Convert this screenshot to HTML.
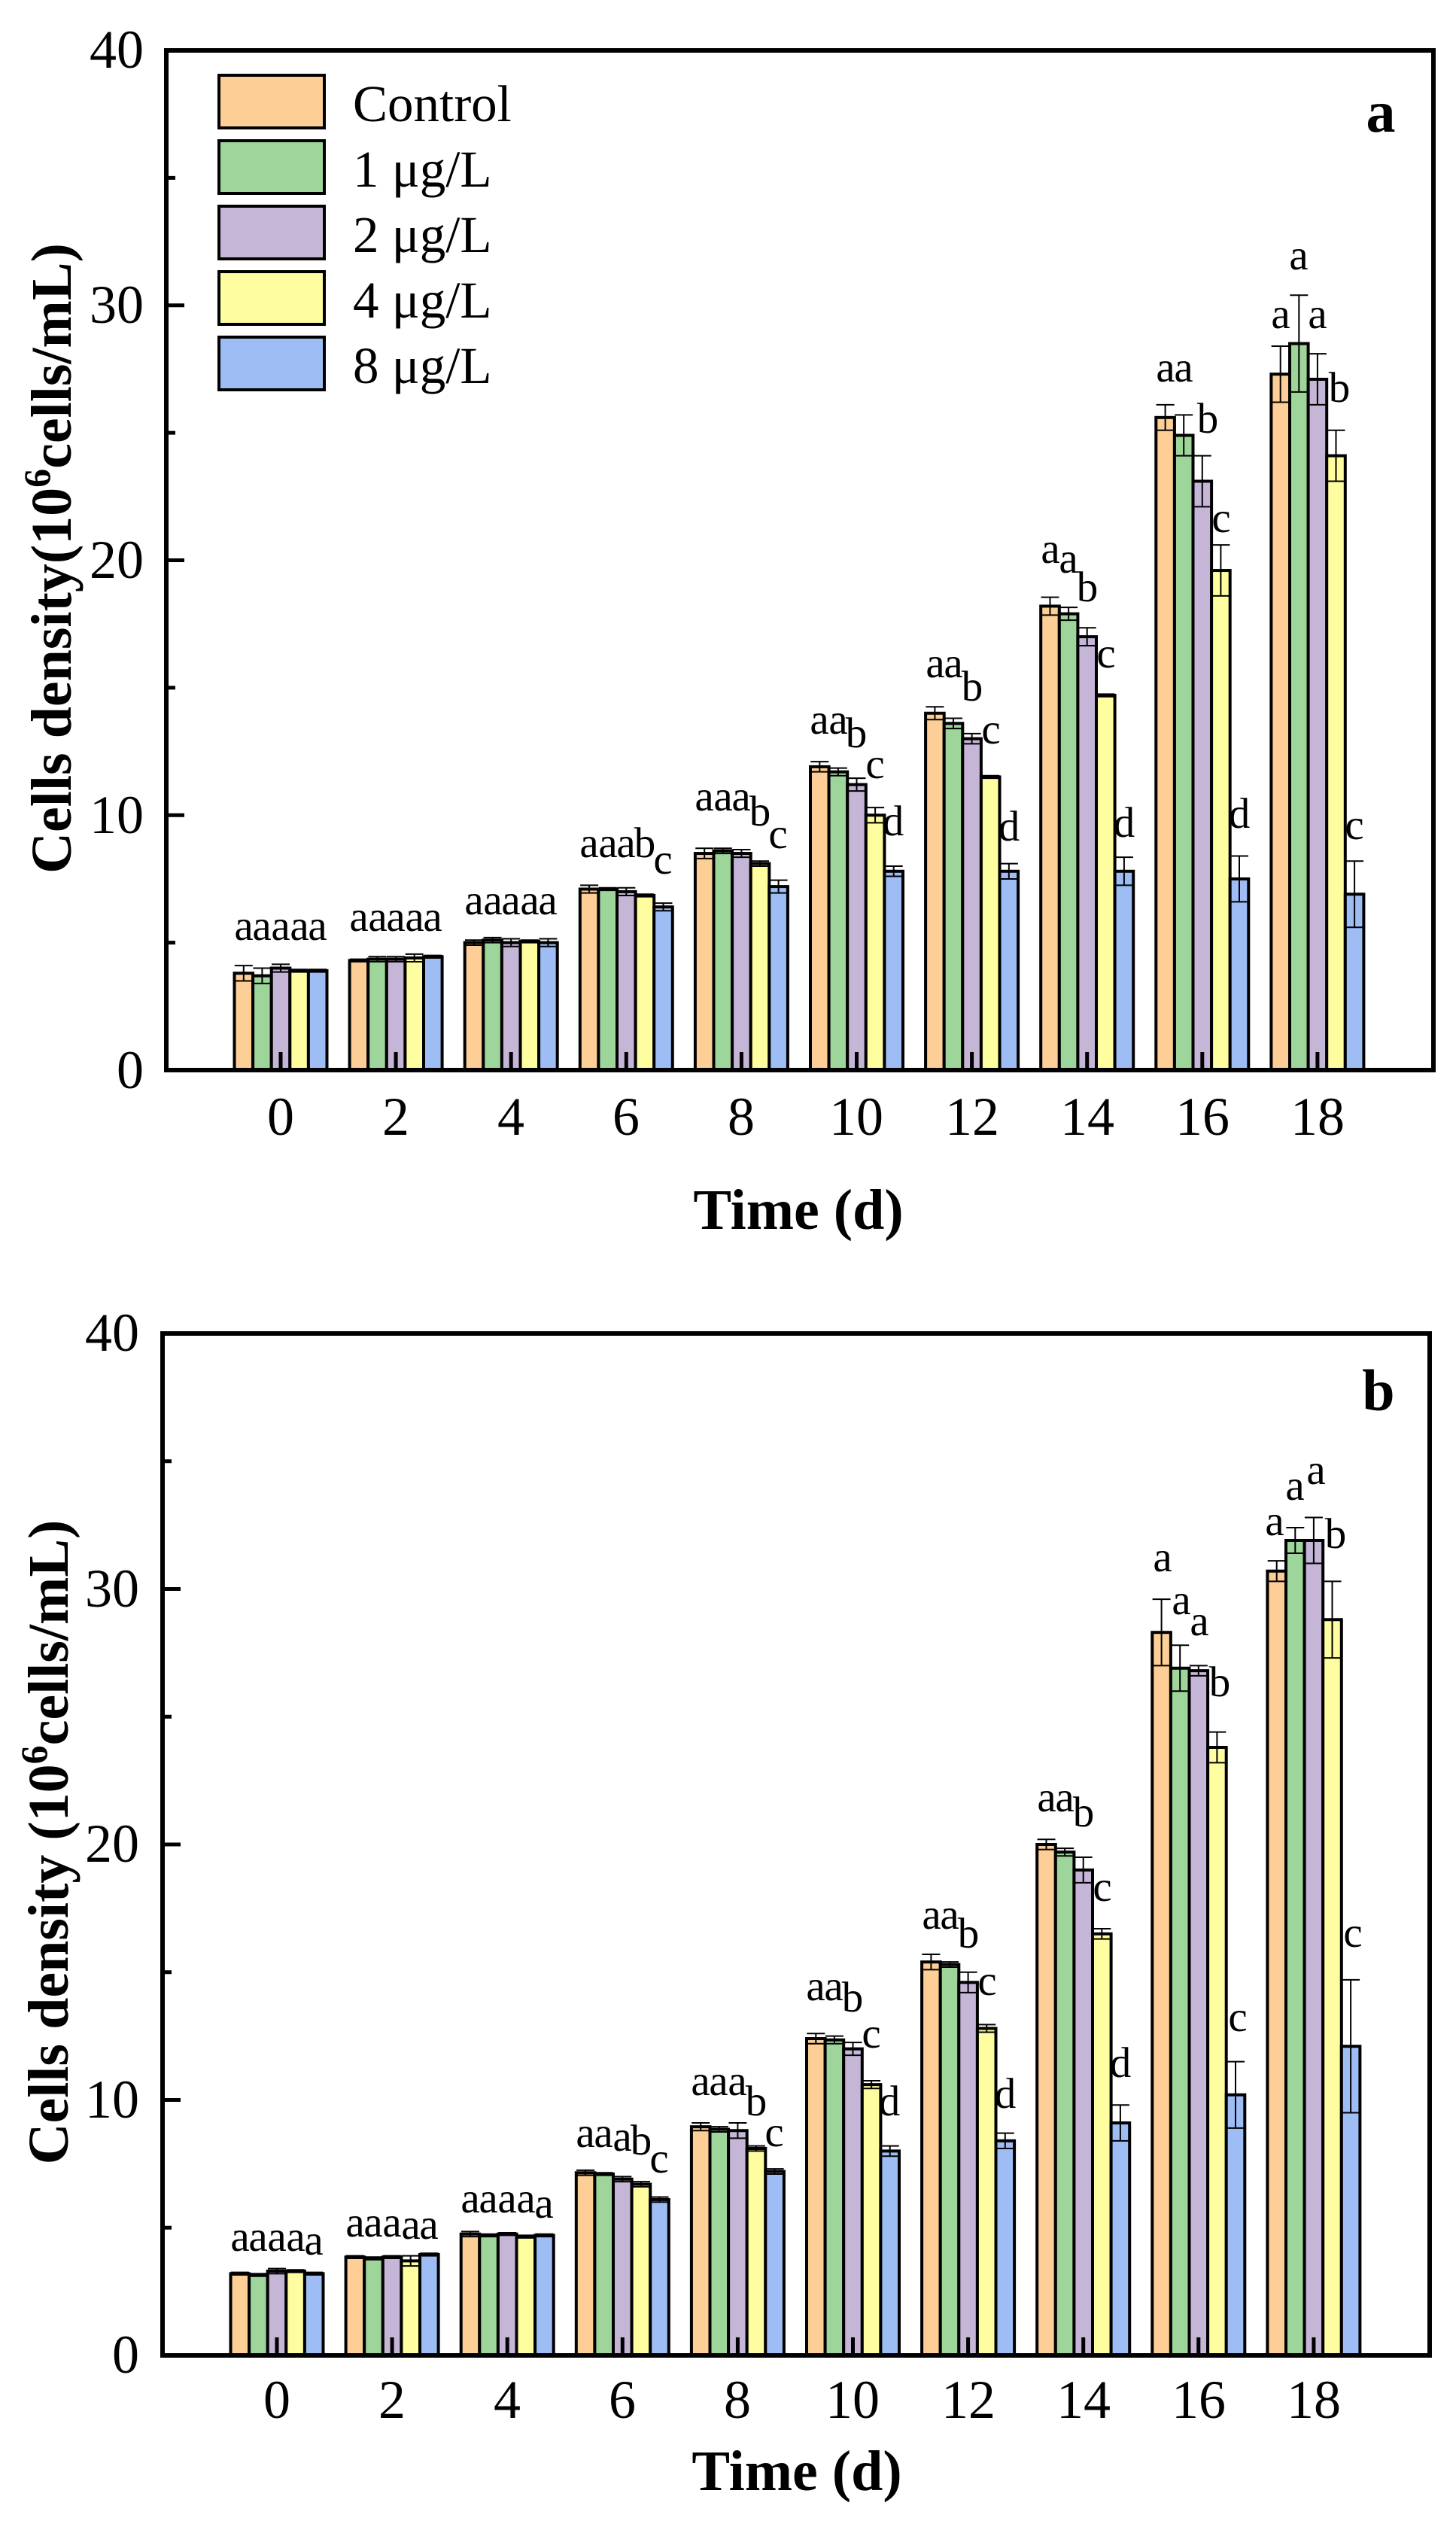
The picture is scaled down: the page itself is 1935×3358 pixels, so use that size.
<!DOCTYPE html>
<html><head><meta charset="utf-8">
<style>
html,body{margin:0;padding:0;background:#fff;}
svg{display:block;}
text{font-family:"Liberation Serif",serif;fill:#000;}
.tk{font-size:72px;}
.lt{font-size:57px;}
.lg{font-size:69px;}
.bd{font-weight:bold;}
</style></head>
<body>
<svg id="s" width="1935" height="3358" viewBox="0 0 1935 3358" xmlns="http://www.w3.org/2000/svg">
<g id="bars"></g>
<rect x="221" y="67" width="1684" height="1355" fill="none" stroke="#000" stroke-width="6"/>
<rect x="216" y="1772" width="1684" height="1358" fill="none" stroke="#000" stroke-width="6"/>
<g id="ticks"></g>

<!-- Panel a texts -->
<g class="tk" text-anchor="end">
<text x="191" y="90">40</text><text x="191" y="429">30</text><text x="191" y="768">20</text><text x="191" y="1107">10</text><text x="191" y="1446">0</text>
</g>
<g class="tk" text-anchor="middle">
<text x="373" y="1508">0</text><text x="526" y="1508">2</text><text x="679" y="1508">4</text><text x="832" y="1508">6</text><text x="985" y="1508">8</text><text x="1138" y="1508">10</text><text x="1292" y="1508">12</text><text x="1445" y="1508">14</text><text x="1598" y="1508">16</text><text x="1751" y="1508">18</text>
</g>
<text x="1061" y="1633" text-anchor="middle" class="bd" font-size="76">Time (d)</text>
<text transform="translate(94,742) rotate(-90)" text-anchor="middle" class="bd" font-size="76">Cells density(10<tspan font-size="50" dy="-28">6</tspan><tspan dy="28">cells/mL)</tspan></text>
<text x="1835" y="175" text-anchor="middle" class="bd" font-size="78">a</text>
<g stroke="#000" stroke-width="4">
<rect x="291" y="100" width="140" height="70" fill="#FDCE96"/>
<rect x="291" y="187" width="140" height="70" fill="#9DD59B"/>
<rect x="291" y="274" width="140" height="70" fill="#C5B5D7"/>
<rect x="291" y="361" width="140" height="70" fill="#FEFEA0"/>
<rect x="291" y="448" width="140" height="70" fill="#9EBDF5"/>
</g>
<g class="lg">
<text x="469" y="161">Control</text>
<text x="469" y="248">1 μg/L</text>
<text x="469" y="335">2 μg/L</text>
<text x="469" y="422">4 μg/L</text>
<text x="469" y="509">8 μg/L</text>
</g>
<g class="lt" text-anchor="middle">
<text x="324" y="1249">a</text><text x="348" y="1249">a</text><text x="373" y="1249">a</text><text x="398" y="1249">a</text><text x="422" y="1249">a</text>
<text x="477" y="1237">a</text><text x="502" y="1237">a</text><text x="526" y="1237">a</text><text x="551" y="1237">a</text><text x="575" y="1237">a</text>
<text x="630" y="1215">a</text><text x="655" y="1215">a</text><text x="679" y="1215">a</text><text x="704" y="1215">a</text><text x="728" y="1215">a</text>
<text x="783" y="1139">a</text><text x="808" y="1139">a</text><text x="832" y="1139">a</text><text x="857" y="1139">b</text><text x="881" y="1161">c</text>
<text x="936" y="1077">a</text><text x="961" y="1077">a</text><text x="985" y="1077">a</text><text x="1010" y="1097">b</text><text x="1034" y="1127">c</text>
<text x="1089" y="975">a</text><text x="1114" y="975">a</text><text x="1138" y="993">b</text><text x="1163" y="1034">c</text><text x="1187" y="1110">d</text>
<text x="1243" y="900">a</text><text x="1267" y="900">a</text><text x="1292" y="931">b</text><text x="1317" y="988">c</text><text x="1341" y="1117">d</text>
<text x="1396" y="748">a</text><text x="1420" y="761">a</text><text x="1445" y="799">b</text><text x="1470" y="887">c</text><text x="1494" y="1112">d</text>
<text x="1549" y="507">a</text><text x="1573" y="507">a</text><text x="1605" y="575">b</text><text x="1623" y="707">c</text><text x="1647" y="1100">d</text>
<text x="1702" y="436">a</text><text x="1726" y="358">a</text><text x="1751" y="436">a</text><text x="1780" y="534">b</text><text x="1800" y="1115">c</text>
</g>

<!-- Panel b texts -->
<g class="tk" text-anchor="end">
<text x="185" y="1795">40</text><text x="185" y="2135">30</text><text x="185" y="2474">20</text><text x="185" y="2814">10</text><text x="185" y="3153">0</text>
</g>
<g class="tk" text-anchor="middle">
<text x="368" y="3213">0</text><text x="521" y="3213">2</text><text x="674" y="3213">4</text><text x="827" y="3213">6</text><text x="980" y="3213">8</text><text x="1133" y="3213">10</text><text x="1287" y="3213">12</text><text x="1440" y="3213">14</text><text x="1593" y="3213">16</text><text x="1746" y="3213">18</text>
</g>
<text x="1059" y="3309" text-anchor="middle" class="bd" font-size="76">Time (d)</text>
<text transform="translate(90,2448) rotate(-90)" text-anchor="middle" class="bd" font-size="76">Cells density (10<tspan font-size="50" dy="-28">6</tspan><tspan dy="28">cells/mL)</tspan></text>
<text x="1832" y="1874" text-anchor="middle" class="bd" font-size="78">b</text>
<g class="lt" text-anchor="middle">
<text x="319" y="2991">a</text><text x="343" y="2991">a</text><text x="368" y="2991">a</text><text x="393" y="2991">a</text><text x="417" y="2996">a</text>
<text x="472" y="2972">a</text><text x="496" y="2972">a</text><text x="521" y="2972">a</text><text x="546" y="2975">a</text><text x="570" y="2975">a</text>
<text x="625" y="2940">a</text><text x="649" y="2940">a</text><text x="674" y="2940">a</text><text x="699" y="2940">a</text><text x="723" y="2947">a</text>
<text x="778" y="2853">a</text><text x="802" y="2853">a</text><text x="827" y="2858">a</text><text x="852" y="2863">b</text><text x="876" y="2887">c</text>
<text x="931" y="2784">a</text><text x="955" y="2784">a</text><text x="980" y="2784">a</text><text x="1005" y="2811">b</text><text x="1029" y="2852">c</text>
<text x="1084" y="2658">a</text><text x="1108" y="2658">a</text><text x="1133" y="2673">b</text><text x="1158" y="2721">c</text><text x="1182" y="2811">d</text>
<text x="1238" y="2563">a</text><text x="1262" y="2563">a</text><text x="1287" y="2588">b</text><text x="1312" y="2651">c</text><text x="1336" y="2801">d</text>
<text x="1391" y="2407">a</text><text x="1415" y="2407">a</text><text x="1440" y="2427">b</text><text x="1465" y="2526">c</text><text x="1489" y="2760">d</text>
<text x="1545" y="2088">a</text><text x="1570" y="2145">a</text><text x="1594" y="2173">a</text><text x="1621" y="2254">b</text><text x="1645" y="2699">c</text>
<text x="1694" y="2040">a</text><text x="1721" y="1993">a</text><text x="1749" y="1972">a</text><text x="1775" y="2057">b</text><text x="1798" y="2587">c</text>
</g>
</svg>
<script>
(function(){
var NS="http://www.w3.org/2000/svg";
var cols=["#FDCE96","#9DD59B","#C5B5D7","#FEFEA0","#9EBDF5"];
function el(p,t,a){var e=document.createElementNS(NS,t);for(var k in a)e.setAttribute(k,a[k]);p.appendChild(e);return e;}
var bars=document.getElementById("bars"),ticks=document.getElementById("ticks");
var A={x0:373,y0:1422,k:33.875,left:221,top:67,
 v:[[3.8,3.7,4.0,3.9,3.9],[4.3,4.35,4.35,4.4,4.45],[5.0,5.1,5.0,5.05,5.0],[7.1,7.1,7.0,6.85,6.4],[8.5,8.6,8.5,8.1,7.2],[11.9,11.7,11.2,10.0,7.8],[14.0,13.6,13.0,11.5,7.8],[18.2,17.9,17.0,14.7,7.8],[25.6,24.9,23.1,19.6,7.5],[27.3,28.5,27.1,24.1,6.9]],
 e:[[0.3,0.3,0.15,0.05,0.05],[0.05,0.1,0.1,0.15,0.05],[0.1,0.1,0.15,0.05,0.15],[0.15,0.05,0.15,0.05,0.15],[0.2,0.1,0.15,0.1,0.25],[0.2,0.15,0.25,0.3,0.2],[0.25,0.2,0.2,0.05,0.3],[0.35,0.25,0.35,0.05,0.55],[0.5,0.8,1.0,1.0,0.9],[1.1,1.9,1.0,1.0,1.3]]};
var B={x0:368,y0:3130,k:33.95,left:216,top:1772,
 v:[[3.2,3.15,3.3,3.3,3.2],[3.85,3.8,3.85,3.7,3.95],[4.75,4.7,4.75,4.65,4.7],[7.15,7.1,6.9,6.7,6.1],[8.95,8.85,8.8,8.1,7.2],[12.4,12.35,12.0,10.6,8.0],[15.4,15.3,14.6,12.8,8.4],[20.0,19.7,19.0,16.5,9.1],[28.3,26.9,26.8,23.8,10.2],[30.7,31.9,31.9,28.8,12.1]],
 e:[[0.05,0.05,0.1,0.05,0.05],[0.05,0.05,0.05,0.2,0.05],[0.1,0.05,0.05,0.05,0.05],[0.1,0.05,0.1,0.1,0.1],[0.15,0.1,0.3,0.1,0.1],[0.2,0.15,0.25,0.15,0.2],[0.3,0.1,0.4,0.15,0.3],[0.2,0.15,0.5,0.2,0.7],[1.3,0.9,0.2,0.6,1.3],[0.4,0.5,0.9,1.5,2.6]]};
var bw=24.6,gap=153.1;
[A,B].forEach(function(P){
 for(var g=0;g<10;g++){
  var cx=P.x0+g*gap;
  for(var i=0;i<5;i++){
   var x=cx+(i-2)*bw-bw/2, y=P.y0-P.v[g][i]*P.k;
   el(bars,"rect",{x:x,y:y,width:bw,height:P.y0-y,fill:cols[i],stroke:"#000","stroke-width":4});
  }
  for(var i=0;i<5;i++){
   var bx=cx+(i-2)*bw, v=P.v[g][i], er=P.e[g][i];
   var y1=P.y0-(v+er)*P.k, y2=P.y0-(v-er)*P.k, c=12;
   el(ticks,"path",{d:"M"+bx+" "+y1+"V"+y2+"M"+(bx-c)+" "+y1+"H"+(bx+c)+"M"+(bx-c)+" "+y2+"H"+(bx+c),stroke:"#000","stroke-width":2,fill:"none"});
  }
  el(ticks,"line",{x1:cx,y1:P.y0,x2:cx,y2:P.y0-24,stroke:"#000","stroke-width":5});
 }
 for(var t=1;t<8;t++){
  var y=P.y0-t*5*P.k;
  el(ticks,"line",{x1:P.left,y1:y,x2:P.left+(t%2?12:24),y2:y,stroke:"#000","stroke-width":5});
 }
});
})();
</script>
</body></html>
